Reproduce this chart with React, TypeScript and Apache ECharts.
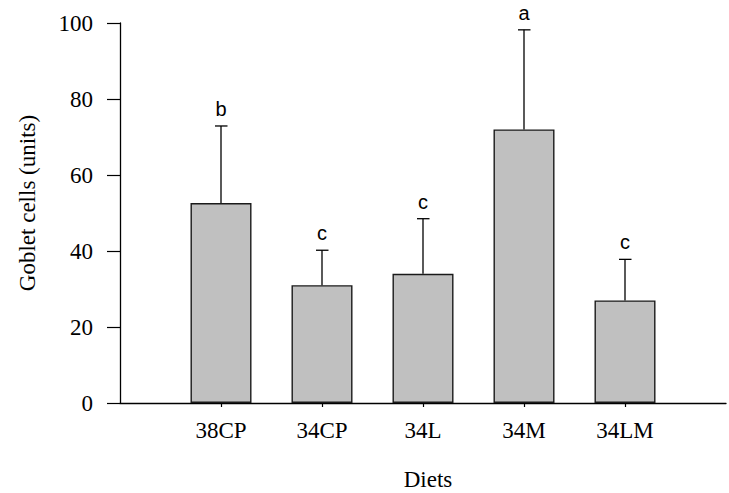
import React, { useEffect, useRef } from "react";
import * as echarts from "echarts";

const categories = ["", "38CP", "34CP", "34L", "34M", "34LM", ""];
const means = [52.6, 31.0, 34.0, 72.0, 27.0];
const upperErrors = [20.3, 9.2, 14.5, 26.2, 10.8];
const letters = ["b", "c", "c", "a", "c"];
const yTicks = [0, 20, 40, 60, 80, 100];

const SERIF = '"Liberation Serif", "Times New Roman", serif';
const SANS = '"Liberation Sans", Arial, sans-serif';

export default function App() {
  const ref = useRef<HTMLDivElement>(null);
  useEffect(() => {
    if (!ref.current) return;
    const chart = echarts.init(ref.current, null, { renderer: "svg" });
    const barData: any[] = ["-", ...means, "-"];
    const errData = means.map((m, i) => [i + 1, m, m + upperErrors[i], letters[i]]);
    chart.setOption({
      animation: false,
      backgroundColor: "#ffffff",
      grid: { left: 120, top: 23, height: 380, right: -7.4, containLabel: false },
      xAxis: {
        type: "category",
        data: categories,
        boundaryGap: false,
        axisLine: { show: true, lineStyle: { color: "#000", width: 1.3 } },
        axisTick: {
          show: true,
          length: 4,
          interval: (i: number) => i >= 1 && i <= 5,
          lineStyle: { color: "#000", width: 1.2 },
        },
        axisLabel: {
          interval: 0,
          margin: 16,
          color: "#000",
          fontFamily: SERIF,
          fontSize: 23,
        },
        splitLine: { show: false },
      },
      yAxis: {
        type: "value",
        min: yTicks[0],
        max: yTicks[yTicks.length - 1],
        interval: 20,
        axisLine: { show: true, lineStyle: { color: "#000", width: 1.3 } },
        axisTick: { show: true, length: 13, lineStyle: { color: "#000", width: 1.2 } },
        axisLabel: { margin: 27, color: "#000", fontFamily: SERIF, fontSize: 23 },
        splitLine: { show: false },
      },
      graphic: [
        {
          type: "text",
          x: 27,
          y: 203,
          rotation: Math.PI / 2,
          style: {
            text: "Goblet cells (units)",
            font: `23px ${SERIF}`,
            fill: "#000",
            align: "center",
            verticalAlign: "middle",
            textAlign: "center",
            textVerticalAlign: "middle",
          },
        },
        {
          type: "text",
          x: 428,
          y: 479,
          style: {
            text: "Diets",
            font: `23px ${SERIF}`,
            fill: "#000",
            align: "center",
            verticalAlign: "middle",
            textAlign: "center",
            textVerticalAlign: "middle",
          },
        },
      ],
      series: [
        {
          type: "bar",
          data: barData,
          barWidth: 61,
          itemStyle: { color: "#c0c0c0", borderColor: "#1a1a1a", borderWidth: 1.4 },
          z: 2,
        },
        {
          type: "custom",
          data: errData,
          z: 3,
          renderItem: (params: any, api: any) => {
            const idx = api.value(0);
            const base = api.coord([idx, api.value(1)]);
            const top = api.coord([idx, api.value(2)]);
            const x = base[0];
            return {
              type: "group",
              children: [
                {
                  type: "line",
                  shape: { x1: x, y1: base[1], x2: x, y2: top[1] },
                  style: { stroke: "#000", lineWidth: 1.3 },
                },
                {
                  type: "line",
                  shape: { x1: x - 6, y1: top[1], x2: x + 6.5, y2: top[1] },
                  style: { stroke: "#000", lineWidth: 1.3 },
                },
                {
                  type: "text",
                  x: x,
                  y: top[1] - 17,
                  style: {
                    text: api.value(3),
                    font: `20px ${SANS}`,
                    fill: "#000",
                    align: "center",
                    verticalAlign: "middle",
                    textAlign: "center",
                    textVerticalAlign: "middle",
                  },
                },
              ],
            };
          },
        },
      ],
    });
    return () => chart.dispose();
  }, []);
  return (
    <div
      ref={ref}
      style={{ position: "absolute", left: 0, top: 0, width: 729, height: 493 }}
    />
  );
}
